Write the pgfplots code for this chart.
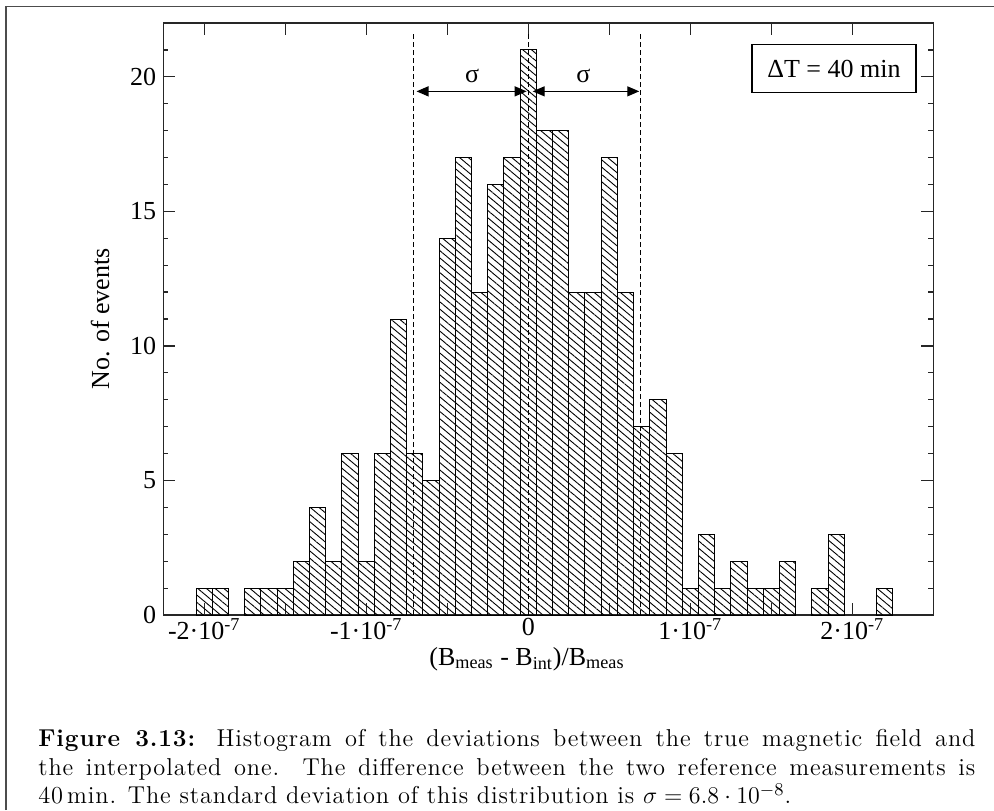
\documentclass[border=0pt]{standalone}
\usepackage{fontspec}
\usepackage{pgfplots}
\pgfplotsset{compat=1.18}
\usetikzlibrary{patterns.meta, arrows.meta}
\newfontfamily\chartfont{Liberation Serif}
\newfontfamily\capfont[LetterSpace=3.5, Extension=.otf, UprightFont=lmroman12-regular,
  BoldFont=lmroman12-bold]{lmroman12-regular}
\newcommand{\cf}{\chartfont\fontsize{13}{15.6}\selectfont}

\begin{document}
\begin{tikzpicture}
\useasboundingbox (-81.65pt,-97.5pt) rectangle (415.35pt,307.5pt);
% page frame (top and left edges only)
\draw[line width=0.9pt, black!70] (-78.65pt,-97.5pt) -- (-78.65pt,304.25pt) -- (415.35pt,304.25pt);
\begin{axis}[
  at={(0pt,0pt)}, anchor=south west,
  scale only axis, width=385pt, height=296pt,
  xmin=-22.53, xmax=25, ymin=0, ymax=22,
  xtick={-20,-15,...,20},
  xticklabels={{-2·10\textsuperscript{-7}},,{-1·10\textsuperscript{-7}},,0,,{1·10\textsuperscript{-7}},,{2·10\textsuperscript{-7}}},
  ytick={0,5,10,15,20},
  minor ytick={0,1,...,22},
  tick align=inside,
  major tick length=6pt, minor tick length=2.5pt,
  axis line style={line width=0.7pt, black!85},
  tick style={line width=0.6pt, black!85},
  /pgf/number format/assume math mode=true,
  tick label style={font=\cf},
  xticklabel style={inner sep=1.5pt},
  label style={font=\cf},
  xlabel={(B\textsubscript{meas} - B\textsubscript{int})/B\textsubscript{meas}},
  xlabel style={at={(axis description cs:0.4723,-0.085)}, anchor=base},
  ylabel={No. of events},
  ylabel style={at={(axis description cs:-0.082,0.5)}, anchor=center},
]
\addplot[ybar, bar width=1, bar shift=0pt, draw=black, line width=0.5pt,
  pattern={Lines[angle=-40, distance=2.8pt, line width=0.45pt]}, pattern color=black]
  coordinates {
  (-20,1)(-19,1)(-17,1)(-16,1)(-15,1)(-14,2)(-13,4)(-12,2)(-11,6)(-10,2)
  (-9,6)(-8,11)(-7,6)(-6,5)(-5,14)(-4,17)(-3,12)(-2,16)(-1,17)(0,21)
  (1,18)(2,18)(3,12)(4,12)(5,17)(6,12)(7,7)(8,8)(9,6)(10,1)
  (11,3)(12,1)(13,2)(14,1)(15,1)(16,2)(18,1)(19,3)(22,1)
};
% sigma markers
\draw[line width=0.5pt, dash pattern=on 2.5pt off 1.5pt] (axis cs:-7.1,0) -- (axis cs:-7.1,21.6);
\draw[line width=0.5pt, dash pattern=on 2.5pt off 1.5pt] (axis cs:0,0) -- (axis cs:0,21.6);
\draw[line width=0.5pt, dash pattern=on 2.5pt off 1.5pt] (axis cs:6.9,0) -- (axis cs:6.9,21.6);
\draw[line width=0.6pt, {Triangle[length=6pt,width=5pt]}-{Triangle[length=6pt,width=5pt]}]
  (axis cs:-6.9,19.46) -- (axis cs:-0.1,19.46);
\draw[line width=0.6pt, {Triangle[length=6pt,width=5pt]}-{Triangle[length=6pt,width=5pt]}]
  (axis cs:0.27,19.46) -- (axis cs:6.85,19.46);
\node[font=\cf] at (axis cs:-3.47,20.03) {σ};
\node[font=\cf] at (axis cs:3.4,20.03) {σ};
\node[draw, line width=0.6pt, minimum width=82pt, minimum height=24pt, inner sep=0pt, fill=white, font=\cf]
  at (axis cs:18.87,20.3) {ΔT = 40 min};
\end{axis}
\node[anchor=north west, inner sep=0pt, text width=468.5pt, align=justify,
  font=\capfont\fontsize{12.2}{14.25}\selectfont] at (-62.65pt,-57.2pt)
  {\textbf{Figure 3.13:} Histogram of the deviations between the true magnetic field and\linebreak
   the interpolated one. The difference between the two reference measurements is\linebreak
   40\,min. The standard deviation of this distribution is $\sigma = 6.8\cdot 10^{-8}$.};
\end{tikzpicture}
\end{document}
